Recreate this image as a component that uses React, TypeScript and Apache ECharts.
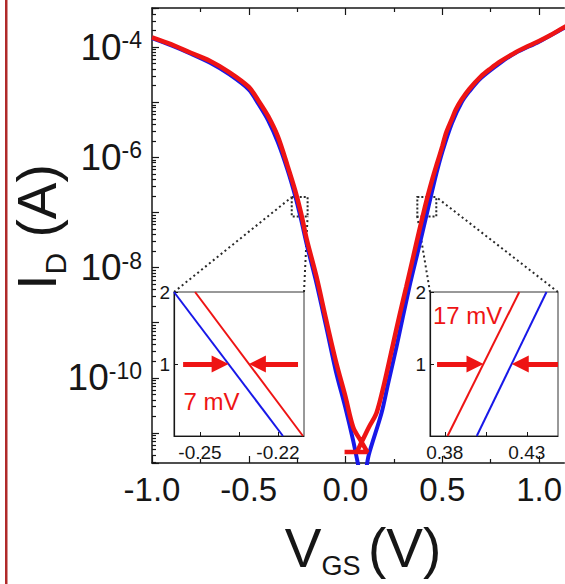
import React, { useEffect, useRef } from "react";
import * as echarts from "echarts";

const FONT = '"Liberation Sans", Arial, Helvetica, sans-serif';
const RED = "#ee1414";
const BLUE = "#1818e8";
const INK = "#161616";
const DOT = "#2a2a2a";

// ---------- main transfer curves: V_GS (V) vs I_D (A) ----------
const redVgs = [-1.0, -0.9, -0.8, -0.7, -0.6, -0.5, -0.45, -0.4, -0.35, -0.3, -0.26, -0.23, -0.2, -0.15, -0.1, -0.05, 0.0, 0.04, 0.08, 0.113, -0.005, 0.05, 0.085, 0.12, 0.16, 0.2, 0.242, 0.28, 0.314, 0.35, 0.38, 0.4035, 0.425, 0.45, 0.47, 0.5, 0.52, 0.55, 0.57, 0.6, 0.64, 0.7, 0.75, 0.8, 0.88, 0.95, 1.0, 1.06, 1.13, 1.2];
const redId = [1.51e-4, 1.12e-4, 7.9e-5, 5.6e-5, 3.5e-5, 1.9e-5, 1.07e-5, 5.6e-6, 2.4e-6, 7.1e-7, 2.5e-7, 9.8e-8, 3.2e-8, 6.8e-9, 1.12e-9, 2.0e-10, 4.5e-11, 1.26e-11, 7.1e-12, 4.5e-12, 4.5e-12, 4.5e-12, 7.1e-12, 1.26e-11, 2.3e-11, 7.9e-11, 3.6e-10, 1.41e-9, 4.5e-9, 1.58e-8, 4.5e-8, 1.0e-7, 2.0e-7, 4.2e-7, 7.2e-7, 1.58e-6, 2.8e-6, 5.0e-6, 7.4e-6, 1.12e-5, 1.74e-5, 2.95e-5, 4.1e-5, 5.5e-5, 8.1e-5, 1.07e-4, 1.29e-4, 1.66e-4, 2.3e-4, 3.0e-4];
const blueVgs = [-1.0, -0.9, -0.8, -0.7, -0.6, -0.5, -0.45, -0.4, -0.35, -0.3, -0.26, -0.23, -0.2, -0.15, -0.1, -0.05, 0.0, 0.04, 0.075, 0.09, 0.105, 0.12, 0.186, 0.22, 0.263, 0.33, 0.38, 0.4215, 0.44, 0.47, 0.5, 0.55, 0.6, 0.64, 0.7, 0.8, 0.88, 1.0, 1.13, 1.2];
const blueId = [1.45e-4, 1.07e-4, 7.6e-5, 5.2e-5, 3.2e-5, 1.7e-5, 9.3e-6, 4.7e-6, 1.9e-6, 6.0e-7, 2.0e-7, 7.6e-8, 2.6e-8, 5.2e-9, 8.5e-10, 1.32e-10, 2.8e-11, 7.1e-12, 1.78e-12, 1.0e-12, 2.0e-12, 4.0e-12, 2.3e-11, 7.9e-11, 3.6e-10, 4.5e-9, 2.4e-8, 1.0e-7, 1.9e-7, 5.2e-7, 1.26e-6, 4.2e-6, 1.0e-5, 1.58e-5, 2.75e-5, 5.2e-5, 7.9e-5, 1.26e-4, 2.24e-4, 2.95e-4];

// main axes
const xMin = -1.0;
const xMax = 1.13;
const xInterval = 0.5;
const xMajorTicks = [-1.0, -0.5, 0.0, 0.5, 1.0];
const xMinorTicks = [-0.75, -0.25, 0.25, 0.75];
const yMinExp = -11.545;
const yMaxExp = -3.29;
const yLabelExps = [-10, -8, -6, -4];

// zoom boxes on the main plot (V_GS, I_D)
const leftZoomBox = [[-0.278, 1.9e-7], [-0.196, 8.5e-8]];
const rightZoomBox = [[0.371, 1.9e-7], [0.469, 8.5e-8]];

// ---------- insets: V_GS (V) vs I_D (x1e-7 A), linear ----------
const leftInsetRange = [-0.26, -0.21];
const leftInsetBlue = [[-0.26, 2.0], [-0.2181, 0.0]];
const leftInsetRed = [[-0.2519, 2.0], [-0.2104, 0.0]];
const leftInsetXTicks = [-0.25, -0.235, -0.22];
const leftInsetXLabels = [-0.25, -0.22];
const leftArrows = [[-0.2565, -0.239], [-0.2123, -0.2312]]; // [from, tip] at I = 1
const leftShiftText = "7 mV";
const leftShiftTextAt = [-0.2456, 0.48];

const rightInsetRange = [0.371, 0.449];
const rightInsetRed = [[0.3817, 0.0], [0.4254, 2.0]];
const rightInsetBlue = [[0.3995, 0.0], [0.442, 2.0]];
const rightInsetXTicks = [0.38, 0.405, 0.43];
const rightInsetXLabels = [0.38, 0.43];
const rightArrows = [[0.3753, 0.4036], [0.449, 0.4208]];
const rightShiftText = "17 mV";
const rightShiftTextAt = [0.3939, 1.68];

const insetYRange = [0, 2];
const insetYTicks = [0, 1, 2];
const insetYLabels = [1, 2];
const arrowLevel = 1;

// ---------- layout ----------
const MAIN = { left: 152, top: 8, right: 0, bottom: 121 };
const LEFT_INSET = { left: 174, top: 292, width: 130, height: 144 };
const RIGHT_INSET = { left: 430, top: 292, width: 128, height: 144 };
const ARROW_HEAD = 17;

function arrowLines(arrows: number[][], range: number[], widthPx: number) {
  const half = (ARROW_HEAD / 2) * (range[1] - range[0]) / widthPx;
  return arrows.map(([from, tip]) => {
    const s = Math.sign(tip - from);
    return [{ coord: [from, arrowLevel] }, { coord: [tip - s * half, arrowLevel] }];
  });
}

function insetAxes(gridIndex: number, range: number[], ticks: number[], labels: number[]) {
  const x = {
    type: "value", gridIndex, min: range[0], max: range[1],
    axisLine: { show: true, onZero: false, lineStyle: { color: INK, width: 1.2 } },
    axisTick: { show: true, inside: true, length: 4, customValues: ticks, lineStyle: { color: INK, width: 1 } },
    axisLabel: { customValues: labels, formatter: (v: number) => v.toFixed(2), fontSize: 19, fontFamily: FONT, color: INK, margin: 7 },
    splitLine: { show: false },
  };
  const y = {
    type: "value", gridIndex, min: insetYRange[0], max: insetYRange[1],
    axisLine: { show: true, onZero: false, lineStyle: { color: INK, width: 1.2 } },
    axisTick: { show: true, inside: true, length: 4, customValues: insetYTicks, lineStyle: { color: INK, width: 1 } },
    axisLabel: { customValues: insetYLabels, formatter: (v: number) => String(v), fontSize: 19, fontFamily: FONT, color: INK, margin: 4 },
    splitLine: { show: false },
  };
  return { x, y };
}

export default function App() {
  const ref = useRef<HTMLDivElement>(null);

  useEffect(() => {
    if (!ref.current) return;
    const chart = echarts.init(ref.current, null, { renderer: "svg" });

    const minorExps: number[] = [];
    for (let n = -12; n <= -4; n++) {
      for (let k = 2; k <= 9; k++) {
        const e = n + Math.log10(k);
        if (e > yMinExp && e < yMaxExp) minorExps.push(e);
      }
    }

    const tickStyle = { color: INK, width: 1.2 };
    const xLabelFmt = (v: number) =>
      xMajorTicks.some((t) => Math.abs(t - v) < 1e-6) ? v.toFixed(1) : "";

    const li = insetAxes(1, leftInsetRange, leftInsetXTicks, leftInsetXLabels);
    const ri = insetAxes(2, rightInsetRange, rightInsetXTicks, rightInsetXLabels);

    const mainX = (position: string, showLine: boolean, ticks: number[], len: number, labels: boolean) => ({
      type: "value", gridIndex: 0, position, min: xMin, max: xMax, interval: xInterval,
      axisLine: { show: showLine, onZero: false, lineStyle: { color: INK, width: 1.5 } },
      axisTick: { show: true, inside: true, length: len, customValues: ticks, lineStyle: tickStyle },
      splitLine: { show: false },
      axisLabel: labels
        ? { formatter: xLabelFmt, customValues: xMajorTicks, fontSize: 33, fontFamily: FONT, color: INK, margin: 10 }
        : { show: false },
    });

    const markLineBase = {
      silent: true,
      symbol: ["none", "triangle"],
      symbolSize: ARROW_HEAD,
      lineStyle: { color: RED, width: 5, type: "solid" },
      label: { show: false },
      emphasis: { disabled: true },
    };
    const textMark = (text: string, at: number[]) => ({
      silent: true,
      symbol: "circle",
      symbolSize: 0,
      label: { show: true, position: "inside", formatter: text, color: RED, fontSize: 24, fontFamily: FONT },
      data: [{ coord: at }],
    });

    const option: any = {
      animation: false,
      backgroundColor: "#ffffff",
      grid: [
        { ...MAIN, show: false },
        { ...LEFT_INSET, show: true, backgroundColor: "#ffffff", borderColor: "#333", borderWidth: 1 },
        { ...RIGHT_INSET, show: true, backgroundColor: "#ffffff", borderColor: "#333", borderWidth: 1 },
      ],
      xAxis: [
        mainX("bottom", true, xMajorTicks, 7, true),
        mainX("top", true, xMajorTicks, 7, false),
        li.x,
        ri.x,
        mainX("bottom", false, xMinorTicks, 4, false),
        mainX("top", false, xMinorTicks, 4, false),
      ],
      yAxis: [
        {
          type: "log", logBase: 10, gridIndex: 0, position: "left",
          min: Math.pow(10, yMinExp), max: Math.pow(10, yMaxExp),
          axisLine: { show: true, onZero: false, lineStyle: { color: INK, width: 1.5 } },
          axisTick: { show: true, inside: true, length: 7, lineStyle: tickStyle },
          splitLine: { show: false },
          axisLabel: {
            margin: 10,
            formatter: (v: number) => {
              const e = Math.log10(v);
              const r = Math.round(e);
              if (Math.abs(e - r) > 0.02 || yLabelExps.indexOf(r) < 0) return "";
              return `{b|10}{s|${r}}`;
            },
            rich: {
              b: { fontSize: 37, fontFamily: FONT, color: INK },
              s: { fontSize: 23, fontFamily: FONT, color: INK, verticalAlign: "top" },
            },
          },
        },
        li.y,
        ri.y,
        {
          type: "value", gridIndex: 0, position: "left", min: yMinExp, max: yMaxExp,
          axisLine: { show: false, onZero: false },
          axisLabel: { show: false },
          splitLine: { show: false },
          axisTick: { show: true, inside: true, length: 4, customValues: minorExps, lineStyle: tickStyle },
        },
      ],
      series: [
        {
          type: "line", xAxisIndex: 0, yAxisIndex: 0, symbol: "none", silent: true, smooth: 0.3,
          data: blueVgs.map((v, i) => [v, blueId[i]]),
          lineStyle: { color: BLUE, width: 4 }, z: 2,
        },
        {
          type: "line", xAxisIndex: 0, yAxisIndex: 0, symbol: "none", silent: true, smooth: 0.3,
          data: redVgs.map((v, i) => [v, redId[i]]),
          lineStyle: { color: RED, width: 4.5 }, z: 3,
          markArea: {
            silent: true,
            itemStyle: { color: "rgba(0,0,0,0)", borderColor: DOT, borderWidth: 2, borderType: [2, 2] },
            label: { show: false },
            data: [
              [{ coord: leftZoomBox[0] }, { coord: leftZoomBox[1] }],
              [{ coord: rightZoomBox[0] }, { coord: rightZoomBox[1] }],
            ],
          },
        },
        {
          type: "line", xAxisIndex: 2, yAxisIndex: 1, symbol: "none", silent: true,
          data: leftInsetBlue, lineStyle: { color: BLUE, width: 2 },
        },
        {
          type: "line", xAxisIndex: 2, yAxisIndex: 1, symbol: "none", silent: true, clip: false,
          data: leftInsetRed, lineStyle: { color: RED, width: 2 },
          markLine: { ...markLineBase, data: arrowLines(leftArrows, leftInsetRange, LEFT_INSET.width) },
          markPoint: textMark(leftShiftText, leftShiftTextAt),
        },
        {
          type: "line", xAxisIndex: 3, yAxisIndex: 2, symbol: "none", silent: true,
          data: rightInsetBlue, lineStyle: { color: BLUE, width: 2 },
        },
        {
          type: "line", xAxisIndex: 3, yAxisIndex: 2, symbol: "none", silent: true, clip: false,
          data: rightInsetRed, lineStyle: { color: RED, width: 2 },
          markLine: { ...markLineBase, data: arrowLines(rightArrows, rightInsetRange, RIGHT_INSET.width) },
          markPoint: textMark(rightShiftText, rightShiftTextAt),
        },
      ],
    };

    chart.setOption(option);

    const elements: any[] = [
      { type: "rect", silent: true, shape: { x: 5, y: 0, width: 2.5, height: 584 }, style: { fill: "#b02a2a" } },
      {
        type: "text", silent: true, x: 363, y: 520,
        style: {
          text: "{v|V}{s|GS }{v|(V)}",
          align: "center", verticalAlign: "top", textAlign: "center", textVerticalAlign: "top",
          rich: {
            v: { fontSize: 55, fontFamily: FONT, fill: INK, verticalAlign: "top" },
            s: { fontSize: 27, fontFamily: FONT, fill: INK, verticalAlign: "bottom", lineHeight: 59 },
          },
        },
      },
      {
        type: "text", silent: true, x: 9, y: 227, rotation: Math.PI / 2,
        style: {
          text: "{i|I}{d|D}{i| (A)}",
          align: "center", verticalAlign: "top", textAlign: "center", textVerticalAlign: "top",
          rich: {
            i: { fontSize: 55, fontFamily: FONT, fill: INK, verticalAlign: "top" },
            d: { fontSize: 30, fontFamily: FONT, fill: INK, verticalAlign: "bottom", lineHeight: 61 },
          },
        },
      },
    ];

    const px = (pt: number[]) =>
      chart.convertToPixel({ xAxisIndex: 0, yAxisIndex: 0 } as any, pt) as unknown as number[];
    const dotted = (a: number[], b: number[]) => ({
      type: "line", silent: true,
      shape: { x1: a[0], y1: a[1], x2: b[0], y2: b[1] },
      style: { stroke: DOT, lineWidth: 2, lineDash: [2, 3] },
    });
    try {
      const lTL = px([leftZoomBox[0][0], leftZoomBox[0][1]]);
      const lBR = px([leftZoomBox[1][0], leftZoomBox[1][1]]);
      const rBL = px([rightZoomBox[0][0], rightZoomBox[1][1]]);
      const rTR = px([rightZoomBox[1][0], rightZoomBox[0][1]]);
      if (lTL && lBR && rBL && rTR) {
        elements.push(dotted([LEFT_INSET.left, LEFT_INSET.top], lTL));
        elements.push(dotted([LEFT_INSET.left + LEFT_INSET.width, LEFT_INSET.top], lBR));
        elements.push(dotted([RIGHT_INSET.left, RIGHT_INSET.top], rBL));
        elements.push(dotted([RIGHT_INSET.left + RIGHT_INSET.width, RIGHT_INSET.top], rTR));
      }
    } catch (e) {
      // ignore
    }
    chart.setOption({ graphic: { elements } });

    return () => chart.dispose();
  }, []);

  return (
    <div
      ref={ref}
      style={{ position: "fixed", left: 0, top: 0, width: 565, height: 584, background: "#fff" }}
    />
  );
}
